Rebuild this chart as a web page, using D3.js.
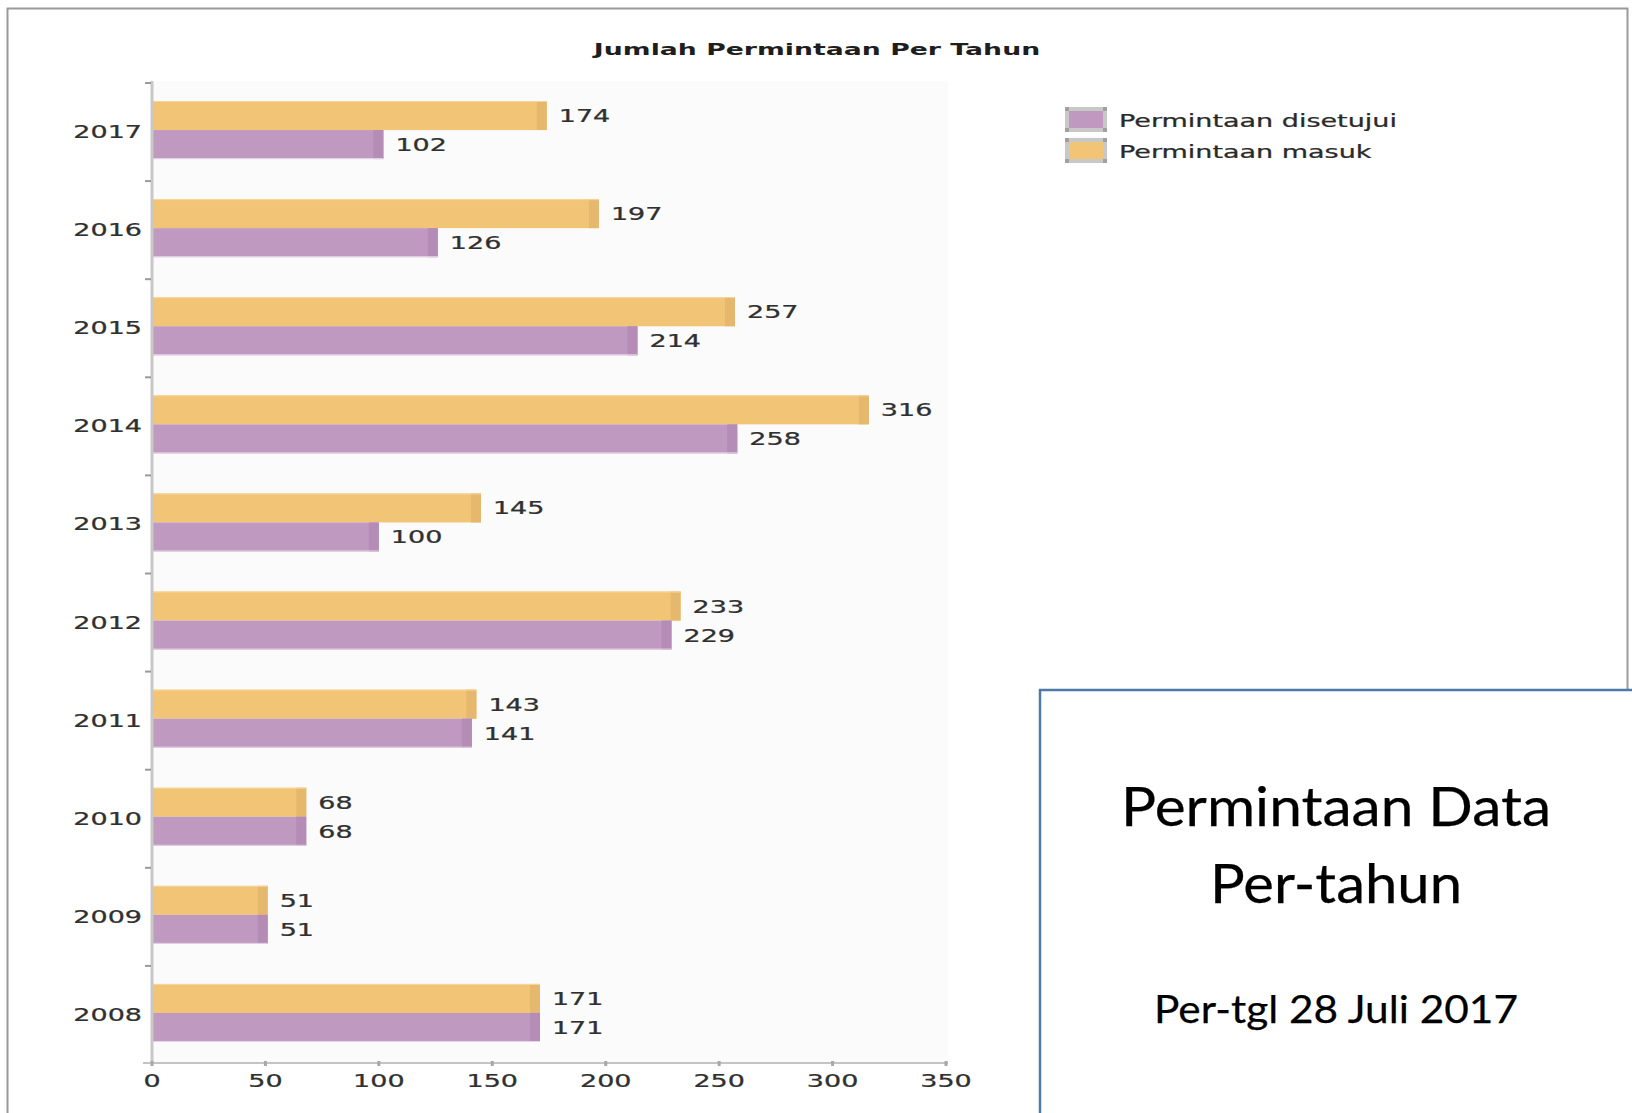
<!DOCTYPE html>
<html>
<head>
<meta charset="utf-8">
<script src="https://cdn.jsdelivr.net/npm/d3@7"></script>
<style>
  html, body { margin: 0; padding: 0; background: #ffffff; }
  svg { display: block; }
</style>
</head>
<body>
<svg id="chart" width="1632" height="1113"></svg>
<script>
// Yearly request counts
const years = ["2017", "2016", "2015", "2014", "2013", "2012", "2011", "2010", "2009", "2008"];
const seriesNames = ["Permintaan masuk", "Permintaan disetujui"];
const masuk = [174, 197, 257, 316, 145, 233, 143, 68, 51, 171];
const disetujui = [102, 126, 214, 258, 100, 229, 141, 68, 51, 171];
const xTicks = [0, 50, 100, 150, 200, 250, 300, 350];
const chartTitle = "Jumlah Permintaan Per Tahun";
const legendItems = ["Permintaan disetujui", "Permintaan masuk"];
const boxLines = ["Permintaan Data", "Per-tahun", "Per-tgl 28 Juli 2017"];

const colors = {
  "Permintaan masuk": { fill: "#f2c475", edge: "#e5b86e" },
  "Permintaan disetujui": { fill: "#bf99bf", edge: "#b48cb5" }
};

const svg = d3.select("#chart");
const FONT = "'DejaVu Sans', sans-serif";
const SX = 1.5;          // horizontal stretch of the chart lettering
const FS = 18;

// text helper: horizontally stretched lettering
function stretchedText(g, x, y, str, opts = {}) {
  return g.append("text")
    .attr("transform", `translate(${x},${y}) scale(${opts.sx || SX},1)`)
    .attr("font-family", FONT)
    .attr("font-size", opts.size || FS)
    .attr("font-weight", opts.weight || "normal")
    .attr("fill", opts.fill || "#303030")
    .attr("stroke", opts.fill || "#303030")
    .attr("stroke-width", opts.weight === "bold" ? 0 : 0.25)
    .attr("text-anchor", opts.anchor || "start")
    .text(str);
}

// outer frame
svg.append("rect")
  .attr("x", 7.5).attr("y", 8.5)
  .attr("width", 1620).attr("height", 1200)
  .attr("fill", "none").attr("stroke", "#9a9a9a").attr("stroke-width", 2);

// plot geometry
const plot = { left: 152, right: 946, top: 81, bottom: 1062 };

const x = d3.scaleLinear().domain([0, 350]).range([plot.left, plot.right]);
const y0 = d3.scaleBand().domain(years).range([plot.top, plot.bottom]).paddingInner(0).paddingOuter(0);
const y1 = d3.scaleBand().domain(seriesNames).range([0, y0.bandwidth()]).paddingInner(0).paddingOuter(0.69);

// plot background
svg.append("rect")
  .attr("x", plot.left).attr("y", plot.top)
  .attr("width", plot.right + 2 - plot.left).attr("height", plot.bottom - plot.top)
  .attr("fill", "#fbfbfb");

// title
stretchedText(svg, 817, 55, chartTitle, { size: 16, weight: "bold", fill: "#1e1e1e", anchor: "middle", sx: 1.67 });

// bars
const rows = years.map((yr, i) => ({ year: yr, values: { "Permintaan masuk": masuk[i], "Permintaan disetujui": disetujui[i] } }));

const barG = svg.append("g");
rows.forEach(row => {
  seriesNames.forEach(s => {
    const v = row.values[s];
    const yTop = y0(row.year) + y1(s);
    const h = y1.bandwidth();
    const w = x(v) - x(0);
    barG.append("rect")
      .attr("x", x(0)).attr("y", yTop)
      .attr("width", w).attr("height", h)
      .attr("fill", colors[s].fill);
    // darker end face
    const ew = Math.min(10, w);
    barG.append("rect")
      .attr("x", x(v) - ew).attr("y", yTop)
      .attr("width", ew).attr("height", h)
      .attr("fill", colors[s].edge);
    // thin light edge along the bar
    barG.append("line")
      .attr("x1", x(0)).attr("x2", x(v))
      .attr("y1", s === "Permintaan masuk" ? yTop + 0.5 : yTop + h - 0.5)
      .attr("y2", s === "Permintaan masuk" ? yTop + 0.5 : yTop + h - 0.5)
      .attr("stroke", s === "Permintaan masuk" ? "#f6d69c" : "#e6d6e8")
      .attr("stroke-width", 1);
    // value label
    stretchedText(barG, x(v) + 12, yTop + h / 2 + 6.5, String(v));
  });
});

// y axis
const yAxisG = svg.append("g");
yAxisG.append("line")
  .attr("x1", plot.left).attr("x2", plot.left)
  .attr("y1", plot.top).attr("y2", plot.bottom + 1)
  .attr("stroke", "#c8c8c8").attr("stroke-width", 3);
// category boundary ticks
const boundaries = years.map(yr => y0(yr));
boundaries.forEach(b => {
  yAxisG.append("line")
    .attr("x1", 145).attr("x2", plot.left - 1)
    .attr("y1", b + 2).attr("y2", b + 2)
    .attr("stroke", "#9a9a9a").attr("stroke-width", 2);
});
years.forEach(yr => {
  stretchedText(yAxisG, 142, y0(yr) + y0.bandwidth() / 2 + 8, yr, { anchor: "end" });
});

// x axis
const xAxisG = svg.append("g");
xAxisG.append("line")
  .attr("x1", 143).attr("x2", plot.right + 2)
  .attr("y1", 1063).attr("y2", 1063)
  .attr("stroke", "#c4c4c4").attr("stroke-width", 2);
xTicks.forEach(t => {
  xAxisG.append("rect")
    .attr("x", x(t) - 1.5).attr("y", 1061)
    .attr("width", 3).attr("height", 5)
    .attr("fill", "#a8a8a8");
  stretchedText(xAxisG, x(t), 1087, String(t), { anchor: "middle" });
});

// legend
const legendG = svg.append("g");
legendItems.forEach((name, i) => {
  const ly = 109 + i * 31;
  legendG.append("rect")
    .attr("x", 1067).attr("y", ly)
    .attr("width", 38).attr("height", 21)
    .attr("fill", colors[name].fill)
    .attr("stroke", "#c8c8c8").attr("stroke-width", 4);
  [[1065, ly - 2], [1103, ly - 2], [1065, ly + 19], [1103, ly + 19]].forEach(([cx, cy]) => {
    legendG.append("rect").attr("x", cx).attr("y", cy).attr("width", 4).attr("height", 4).attr("fill", "#a0a0a0");
  });
  stretchedText(legendG, 1119, ly + 18, name, { fill: "#2a2a2a" });
});

// note box
const boxG = svg.append("g");
boxG.append("rect")
  .attr("x", 1040).attr("y", 690)
  .attr("width", 700).attr("height", 500)
  .attr("fill", "#ffffff")
  .attr("stroke", "#4d7aa9").attr("stroke-width", 2.5);
const boxCx = 1336;
const boxSpecs = [
  { y: 826, size: 55, len: 430 },
  { y: 903, size: 55, len: 252 },
  { y: 1023, size: 39.5, len: 364 }
];
boxLines.forEach((line, i) => {
  boxG.append("text")
    .attr("x", boxCx).attr("y", boxSpecs[i].y)
    .attr("font-family", "Lato, 'Open Sans', sans-serif")
    .attr("font-size", boxSpecs[i].size)
    .attr("fill", "#000000")
    .attr("stroke", "#000000")
    .attr("stroke-width", 0.25)
    .attr("text-anchor", "middle")
    .attr("textLength", boxSpecs[i].len)
    .attr("lengthAdjust", "spacingAndGlyphs")
    .text(line);
});
</script>
</body>
</html>
